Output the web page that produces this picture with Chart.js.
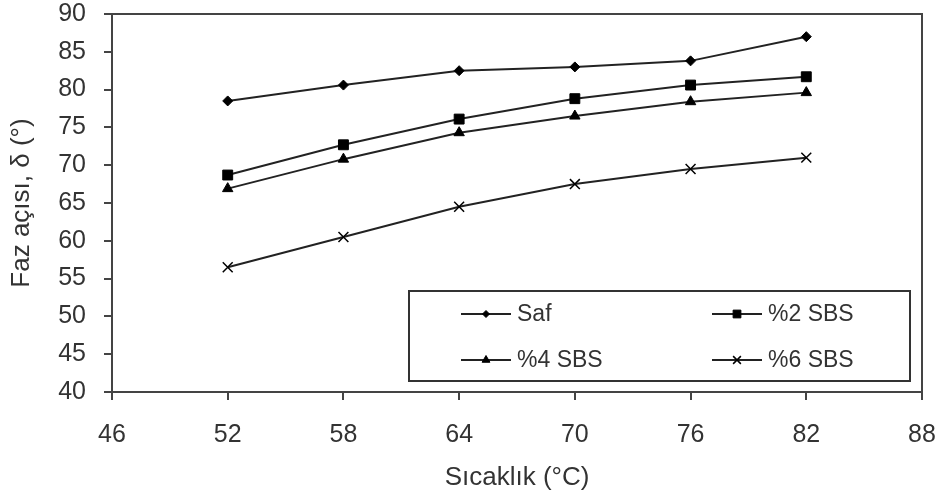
<!DOCTYPE html>
<html>
<head>
<meta charset="utf-8">
<script src="https://cdn.jsdelivr.net/npm/chart.js@4/dist/chart.umd.min.js"></script>
<style>
  html, body { margin: 0; padding: 0; background: #fff; }
  #wrap { width: 939px; height: 497px; }
</style>
</head>
<body>
<div id="wrap"><canvas id="wykres"></canvas></div>
<script>
// sicaklik (°C)
var sicaklik = [52, 58, 64, 70, 76, 82];
// faz acisi (°)
var saf    = [78.5, 80.6, 82.5, 83.0, 83.8, 87.0];
var sbs2   = [68.7, 72.7, 76.1, 78.8, 80.6, 81.7];
var sbs4   = [66.9, 70.8, 74.3, 76.5, 78.4, 79.6];
var sbs6   = [56.5, 60.5, 64.5, 67.5, 69.5, 71.0];
var seriAdlari = ["Saf", "%2 SBS", "%4 SBS", "%6 SBS"];

var xMin = 46, xMax = 88, xStep = 6;
var yMin = 40, yMax = 90, yStep = 5;

function punkty(wartosci) {
	var p = [];
	for (var i = 0; i < sicaklik.length; i++) {
		p.push({x: sicaklik[i], y: wartosci[i]});
	}
	return p;
}

var fontAd = "'Liberation Sans', Arial, sans-serif";
var yaziRengi = '#333';

function seri(ad, veri, stil, r) {
	return {
		label: ad,
		data: punkty(veri),
		borderColor: '#222',
		borderWidth: 2,
		backgroundColor: '#000',
		pointStyle: stil,
		pointRadius: r,
		pointHoverRadius: r,
		pointBackgroundColor: '#000',
		pointBorderColor: '#000',
		pointBorderWidth: stil === 'crossRot' ? 1.5 : 1,
		fill: false,
		tension: 0
	};
}

var veriler = {
	datasets: [
		seri(seriAdlari[0], saf, 'rectRot', 5),
		seri(seriAdlari[1], sbs2, 'rect', 7),
		seri(seriAdlari[2], sbs4, 'triangle', 6),
		seri(seriAdlari[3], sbs6, 'crossRot', 7)
	]
};

// cerceve + lejant
var cercevePlugin = {
	id: 'cerceve',
	afterDraw: function(chart) {
		var ctx = chart.ctx;
		var a = chart.chartArea;
		ctx.save();
		ctx.strokeStyle = '#444';
		ctx.lineWidth = 2;
		ctx.strokeRect(a.left, a.top, a.right - a.left, a.bottom - a.top);

		// lejant kutusu
		var bx = 409, by = 291, bw = 501, bh = 90;
		ctx.fillStyle = '#fff';
		ctx.fillRect(bx, by, bw, bh);
		ctx.strokeStyle = '#333';
		ctx.lineWidth = 2;
		ctx.strokeRect(bx, by, bw, bh);

		var sutun = [461, 712];
		var satir = [314, 360];
		ctx.font = "23px " + fontAd;
		ctx.textBaseline = 'middle';
		ctx.textAlign = 'left';
		chart.data.datasets.forEach(function(ds, i) {
			var x = sutun[i % 2], y = satir[Math.floor(i / 2)];
			ctx.strokeStyle = '#222';
			ctx.lineWidth = 2;
			ctx.beginPath();
			ctx.moveTo(x, y);
			ctx.lineTo(x + 50, y);
			ctx.stroke();
			ctx.fillStyle = '#000';
			ctx.strokeStyle = '#000';
			ctx.lineWidth = ds.pointBorderWidth;
			Chart.helpers.drawPoint(ctx, {
				pointStyle: ds.pointStyle,
				radius: ds.pointRadius - 1.5,
				rotation: 0,
				borderWidth: ds.pointBorderWidth
			}, x + 25, y);
			ctx.fillStyle = yaziRengi;
			ctx.fillText(ds.label, x + 56, y + 1);
		});
		ctx.restore();
	}
};

var ctx = document.getElementById('wykres');
var wykres = new Chart(ctx, {
	type: 'line',
	data: veriler,
	plugins: [cercevePlugin],
	options: {
		responsive: true,
		maintainAspectRatio: false,
		animation: false,
		layout: { padding: { top: 14, right: 17, left: 0, bottom: 0 } },
		plugins: {
			legend: { display: false },
			tooltip: { enabled: false }
		},
		scales: {
			x: {
				type: 'linear',
				min: xMin,
				max: xMax,
				afterFit: function(s) {
					s.height = 105;
					s.paddingLeft = 0;
					s.paddingRight = 0;
				},
				ticks: {
					stepSize: xStep,
					color: yaziRengi,
					font: { family: fontAd, size: 25 },
					padding: 20
				},
				grid: {
					drawOnChartArea: false,
					drawTicks: true,
					tickLength: 8,
					color: '#444',
					lineWidth: 2
				},
				border: { color: '#444', width: 2 },
				title: {
					display: true,
					text: 'Sıcaklık (°C)',
					color: yaziRengi,
					font: { family: fontAd, size: 26 },
					padding: { top: 0, bottom: 4 }
				}
			},
			y: {
				type: 'linear',
				min: yMin,
				max: yMax,
				afterFit: function(s) {
					s.width = 112;
					s.paddingTop = 0;
					s.paddingBottom = 0;
				},
				ticks: {
					stepSize: yStep,
					color: yaziRengi,
					font: { family: fontAd, size: 25 },
					padding: 18
				},
				grid: {
					drawOnChartArea: false,
					drawTicks: true,
					tickLength: 8,
					color: '#444',
					lineWidth: 2
				},
				border: { color: '#444', width: 2 },
				title: {
					display: true,
					text: 'Faz açısı, δ (°)',
					color: yaziRengi,
					font: { family: fontAd, size: 26 },
					padding: { top: 6, bottom: 0 }
				}
			}
		}
	}
});
</script>
</body>
</html>
